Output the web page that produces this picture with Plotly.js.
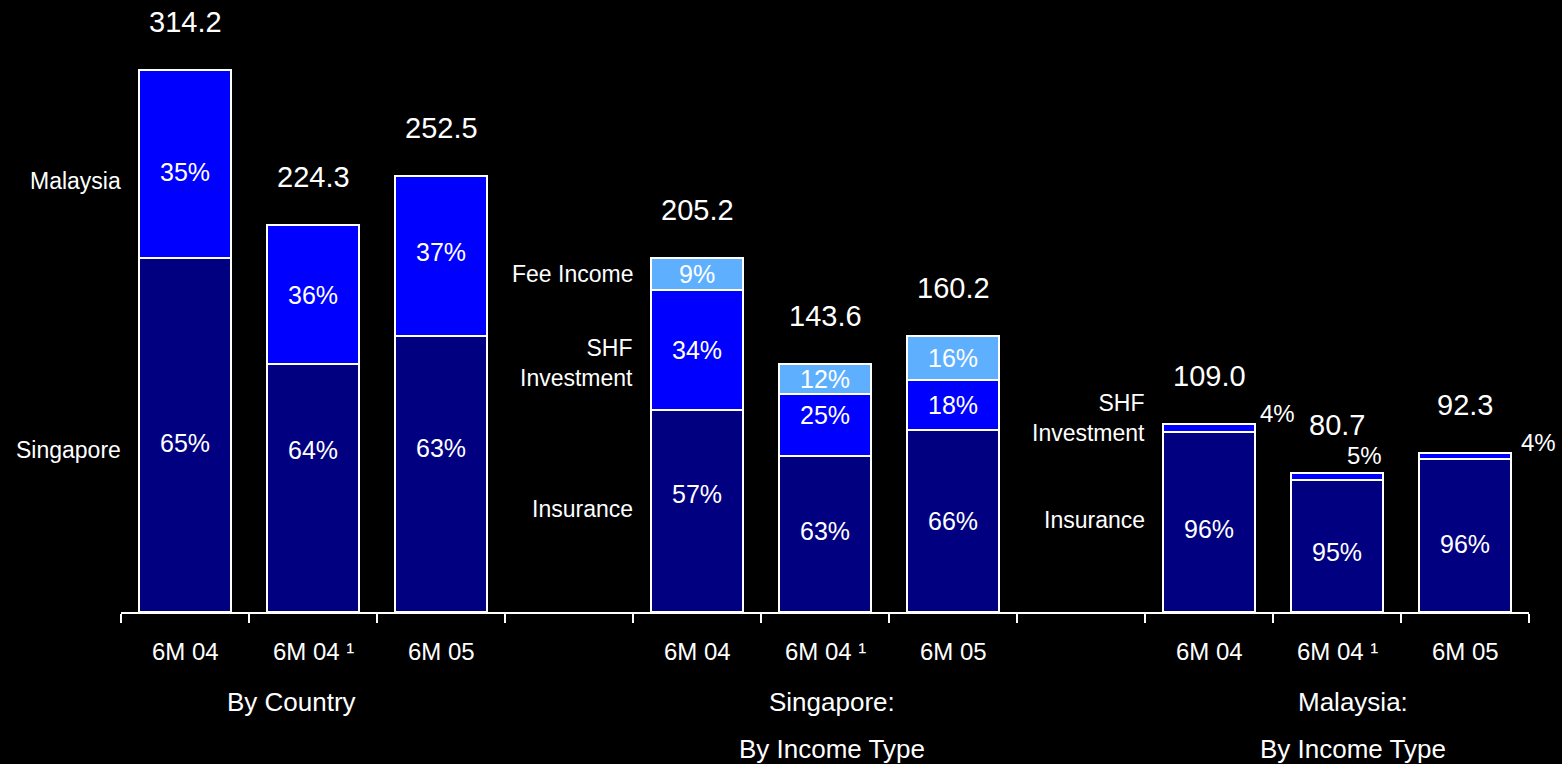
<!DOCTYPE html>
<html>
<head>
<meta charset="utf-8">
<script src="https://cdn.plot.ly/plotly-3.0.1.min.js"></script>
<style>
html,body{margin:0;padding:0;background:#000;}
#chart{width:1562px;height:764px;}
</style>
</head>
<body>
<div id="chart"></div>
<script>
// ---- data ----
const periods = ['6M 04', '6M 04 \u00b9', '6M 05'];
const groupTitles = ['By Country', 'Singapore:<br>By Income Type', 'Malaysia:<br>By Income Type'];

// By Country (values)
const countryTotals = [314.2, 224.3, 252.5];
const countrySingapore = [205.2, 143.6, 160.2];
const countryMalaysia = [109.0, 80.7, 92.3];
const countrySingaporePct = [65, 64, 63];
const countryMalaysiaPct = [35, 36, 37];

// Singapore by income type
const sgTotals = [205.2, 143.6, 160.2];
const sgInsurancePct = [57, 63, 66];
const sgShfPct = [34, 25, 18];
const sgFeePct = [9, 12, 16];

// Malaysia by income type
const myTotals = [109.0, 80.7, 92.3];
const myInsurancePct = [96, 95, 96];
const myShfPct = [4, 5, 4];

const sideLabels = [
  ['Singapore', 'Malaysia'],
  ['Insurance', 'SHF<br>Investment', 'Fee Income'],
  ['Insurance', 'SHF<br>Investment']
];

// ---- styling (label nudges in pixels, colours, sizes) ----
const NAVY = '#000080', BLUE = '#0000ff', LIGHT = '#5eb0ff';
const BW = 0.72;
const pctNudge = [
  [[-8, 38, 26], [-8, 0, 4]],
  [[17, 3, 0], [0, 10, 0], [0, 0, 0]],
  [[-7, -6, -8], [0, 0, 0]]
];
const outsideX = [3, -38, 8];
const outsideY = [10, 17, 10];
const sideNudge = [[-15, -17], [2, -13, 0], [2, 10]];
const titleNudge = [-22, 7, 16];

// ---- build ----
const slot = (g, i) => g * 4 + i;

const groups = [
  {totals: countryTotals, segs: [countrySingapore, countryMalaysia], pcts: [countrySingaporePct, countryMalaysiaPct]},
  {totals: sgTotals, segs: [sgInsurancePct.map((p,i)=>sgTotals[i]*p/100), sgShfPct.map((p,i)=>sgTotals[i]*p/100), sgFeePct.map((p,i)=>sgTotals[i]*p/100)], pcts: [sgInsurancePct, sgShfPct, sgFeePct]},
  {totals: myTotals, segs: [myInsurancePct.map((p,i)=>myTotals[i]*p/100), myShfPct.map((p,i)=>myTotals[i]*p/100)], pcts: [myInsurancePct, myShfPct]}
];
const colors = [NAVY, BLUE, LIGHT];

const traces = [];
for (let level = 0; level < 3; level++) {
  const xs = [], ys = [];
  groups.forEach((g, gi) => {
    if (g.segs[level]) g.segs[level].forEach((v, i) => { xs.push(slot(gi, i)); ys.push(v); });
  });
  traces.push({
    type: 'bar', x: xs, y: ys, width: BW,
    marker: {color: colors[level], line: {color: '#ffffff', width: 2}},
    hoverinfo: 'skip', showlegend: false
  });
}

const FONT = 'Liberation Sans, Arial, sans-serif';
const annotations = [];
const ann = (o, size) => annotations.push(Object.assign({showarrow: false, xref: 'x', yref: 'y', font: {color: '#fff', family: FONT, size: size}}, o));

groups.forEach((g, gi) => {
  g.totals.forEach((t, i) => {
    const x = slot(gi, i);
    ann({x: x, y: t, text: t.toFixed(1), yanchor: 'middle', yshift: 48}, 29);
    let base = 0;
    g.segs.forEach((s, li) => {
      const v = s[i];
      const p = g.pcts[li][i];
      if (gi === 2 && li === 1) {
        ann({x: x + BW / 2, y: base + v, text: p + '%', xanchor: 'left', yanchor: 'middle', xshift: outsideX[i], yshift: outsideY[i]}, 24);
      } else {
        ann({x: x, y: base + v / 2, text: p + '%', yanchor: 'middle', yshift: pctNudge[gi][li][i]}, 25);
      }
      base += v;
    });
    ann({x: x, y: 0, text: periods[i], yanchor: 'middle', yshift: -39}, 24);
  });
  let base = 0;
  g.segs.forEach((s, li) => {
    const v = s[0];
    ann({x: slot(gi, 0) - 0.5, y: base + v / 2, text: sideLabels[gi][li], xanchor: 'right', yanchor: 'middle', align: 'right', xshift: 2, yshift: sideNudge[gi][li]}, 23);
    base += v;
  });
  groupTitles[gi].split('<br>').forEach((ln, k) => {
    ann({x: slot(gi, 1), y: 0, text: ln, yanchor: 'middle', xshift: titleNudge[gi], yshift: -90 - 47 * k}, 26);
  });
});

const tickvals = [];
for (let k = 0; k <= 11; k++) tickvals.push(k - 0.5);

const layout = {
  width: 1562, height: 764,
  paper_bgcolor: '#000', plot_bgcolor: '#000',
  margin: {l: 121, r: 33, t: 40, b: 152},
  barmode: 'stack',
  showlegend: false,
  hovermode: false,
  xaxis: {
    range: [-0.5, 10.5], tickmode: 'array', tickvals: tickvals, ticktext: tickvals.map(() => ''),
    ticks: 'outside', ticklen: 9, tickwidth: 2, tickcolor: '#fff',
    showline: true, linecolor: '#fff', linewidth: 2, showgrid: false, zeroline: false, fixedrange: true
  },
  yaxis: {range: [0, 331.6], visible: false, showgrid: false, zeroline: false, fixedrange: true},
  annotations: annotations
};

Plotly.newPlot('chart', traces, layout, {displayModeBar: false, staticPlot: true});
</script>
</body>
</html>
